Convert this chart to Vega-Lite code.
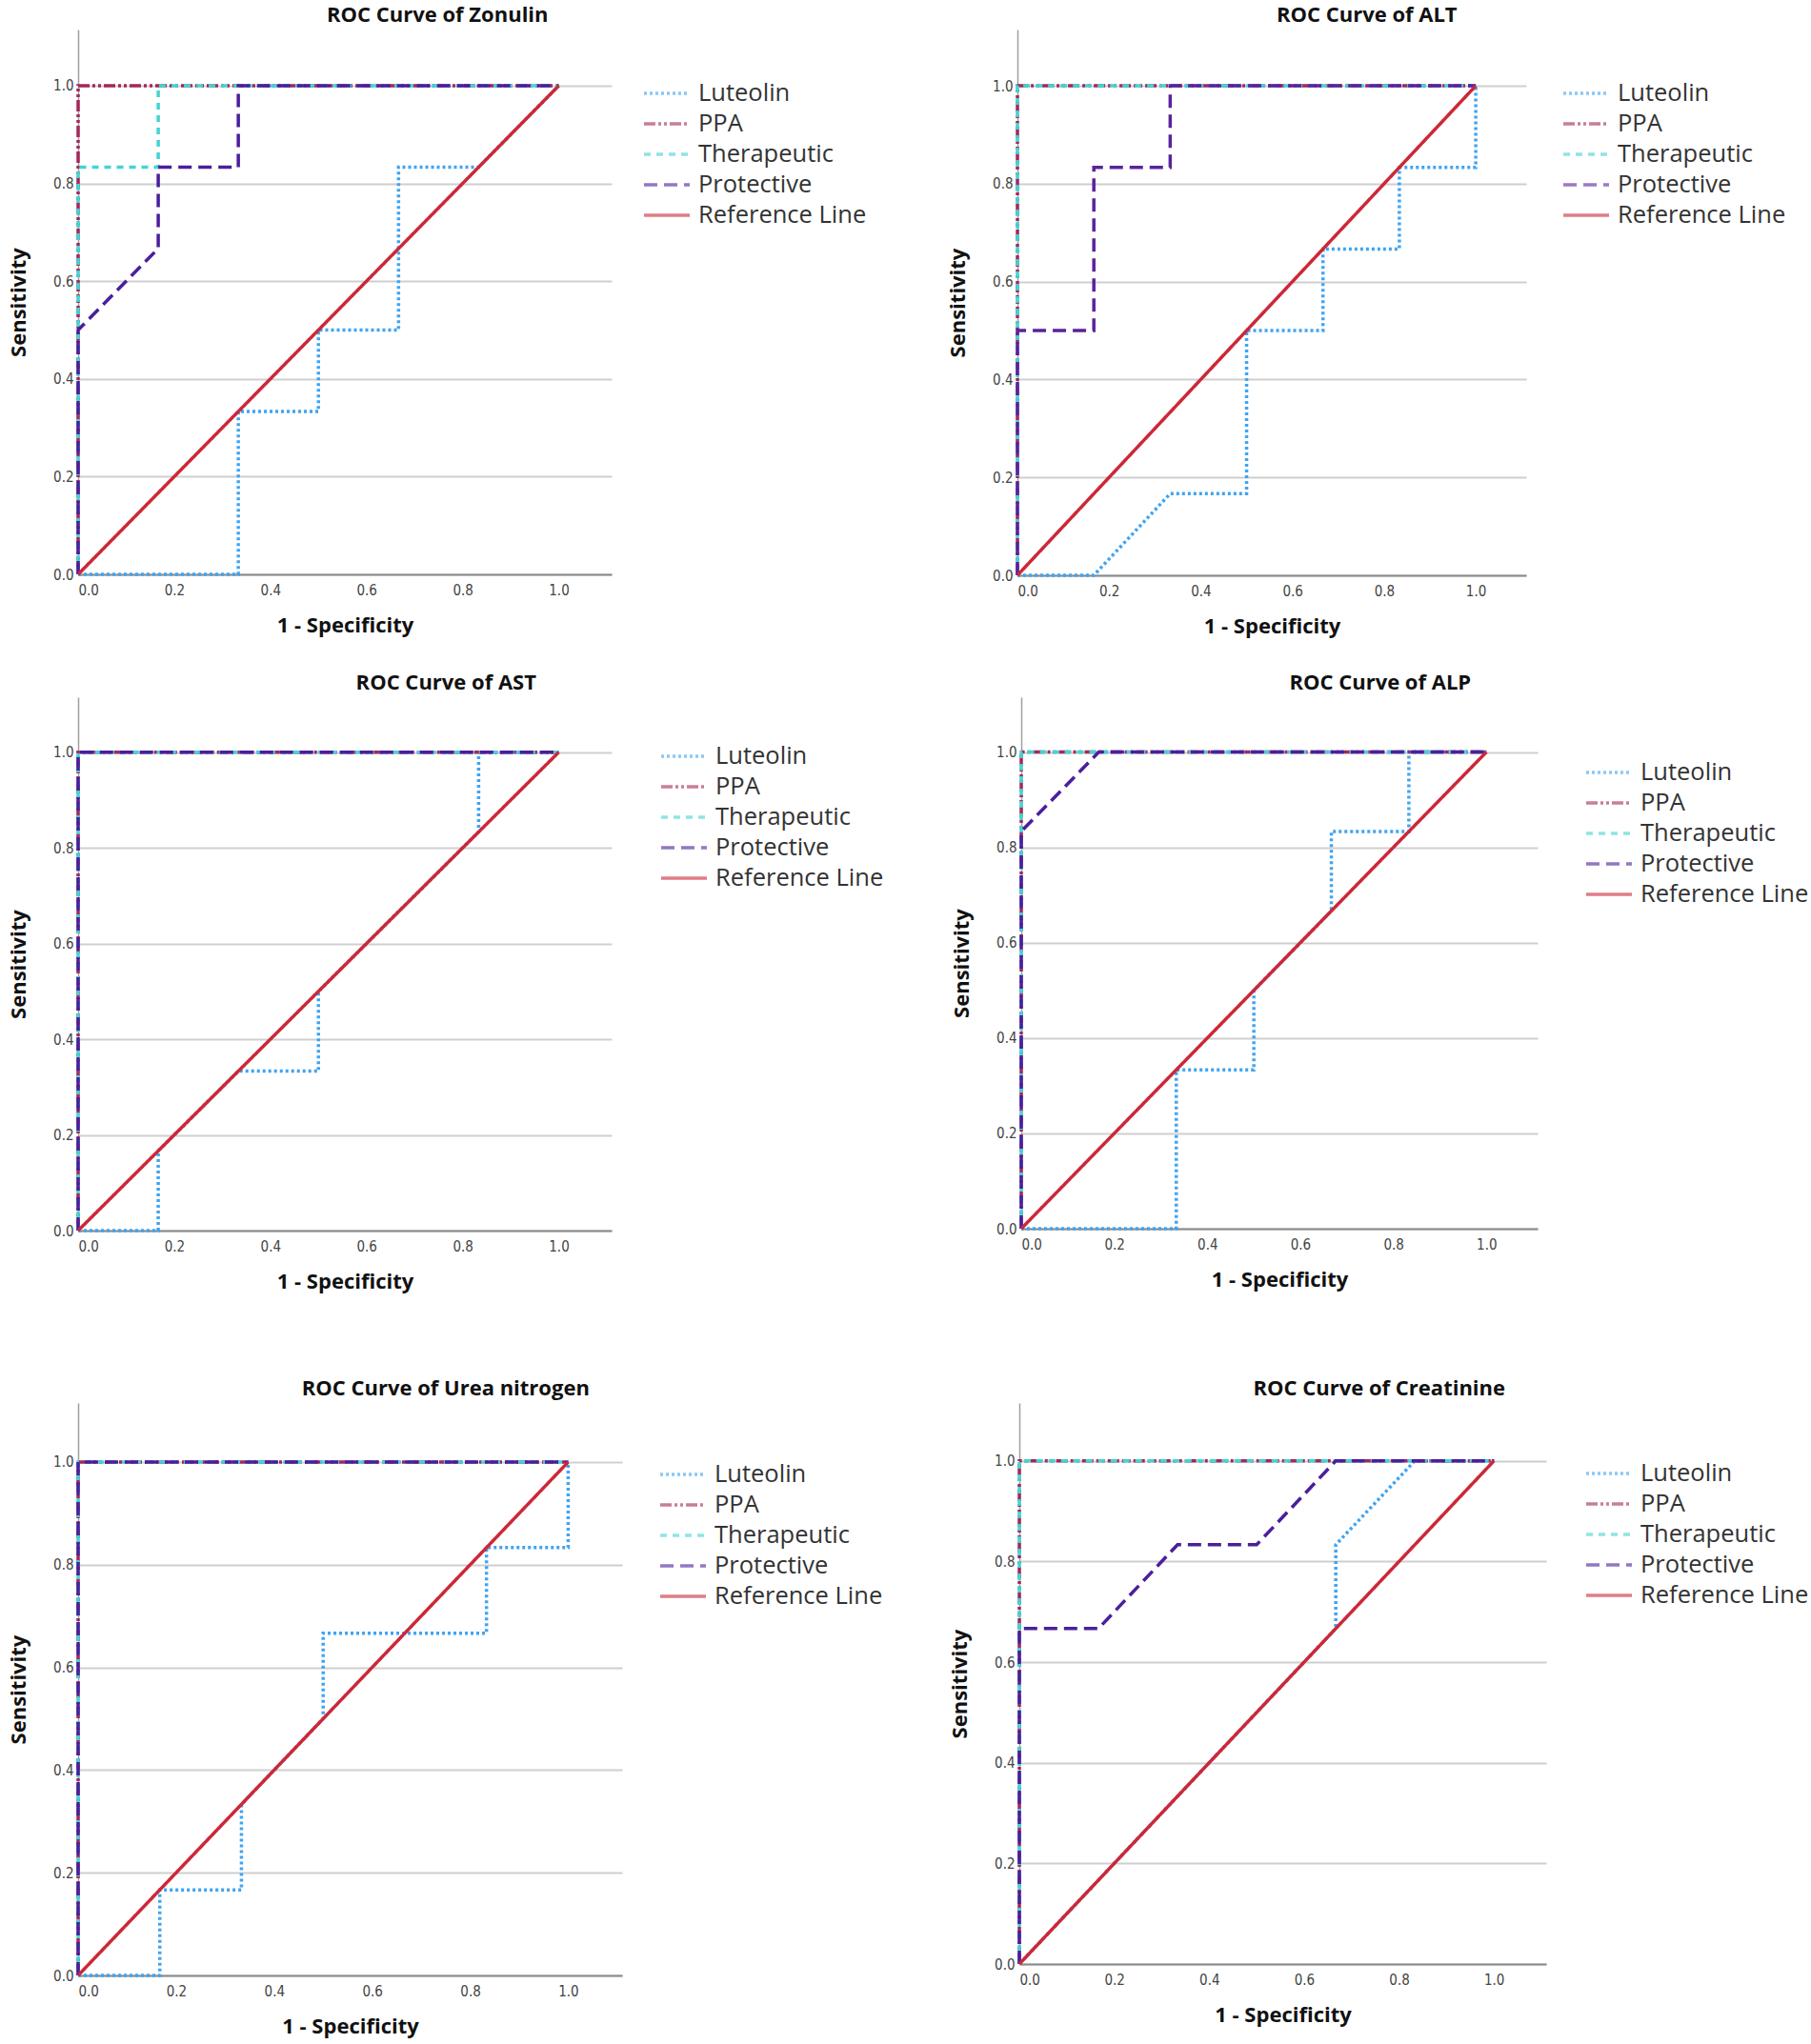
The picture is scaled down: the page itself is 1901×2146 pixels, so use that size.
{
  "$schema": "https://vega.github.io/schema/vega-lite/v6.json",
  "background": "white",
  "padding": {"left": 8, "top": 5, "right": 0, "bottom": 4},
  "config": {
    "view": {"stroke": null},
    "font": "Open Sans",
    "title": {"font": "Open Sans", "fontSize": 22, "fontWeight": "bold", "color": "#111", "frame": "bounds", "anchor": "middle", "offset": 3},
    "axis": {"ticks": false, "labelFont": "DejaVu Sans Condensed", "labelFontSize": 15, "labelColor": "#444", "titleFont": "Open Sans", "titleFontSize": 22, "titleFontWeight": "bold", "titleColor": "#111", "domainColor": "#8a8a8a", "domainWidth": 2, "gridColor": "#cfcfcf", "gridWidth": 2, "labelPadding": 5},
    "axisX": {"grid": false, "titlePadding": 19, "labelPadding": 9},
    "axisY": {"grid": true, "titlePadding": 24, "domainColor": "#a0a0a0", "domainWidth": 1.5},
    "legend": {"title": null, "orient": "none", "symbolType": "M-1.5,0H1.5", "symbolSize": 1024, "symbolStrokeWidth": 3.5, "symbolOpacity": 0.6, "symbolFillColor": "transparent", "labelFont": "Open Sans", "labelFontSize": 25.5, "labelLimit": 400, "labelColor": "#333", "rowPadding": 0, "labelOffset": 15},
    "line": {"strokeWidth": 3.5, "strokeCap": "butt"}
  },
  "datasets": {
    "zon": [
      {"s":"Luteolin","k":0,"x":0,"y":0},{"s":"Luteolin","k":1,"x":0.3333,"y":0},{"s":"Luteolin","k":2,"x":0.3333,"y":0.3333},{"s":"Luteolin","k":3,"x":0.5,"y":0.3333},{"s":"Luteolin","k":4,"x":0.5,"y":0.5},{"s":"Luteolin","k":5,"x":0.6667,"y":0.5},{"s":"Luteolin","k":6,"x":0.6667,"y":0.8333},{"s":"Luteolin","k":7,"x":0.8333,"y":0.8333},{"s":"Luteolin","k":8,"x":1,"y":1},
      {"s":"PPA","k":0,"x":0,"y":0},{"s":"PPA","k":1,"x":0,"y":1},{"s":"PPA","k":2,"x":1,"y":1},
      {"s":"Therapeutic","k":0,"x":0,"y":0},{"s":"Therapeutic","k":1,"x":0,"y":0.8333},{"s":"Therapeutic","k":2,"x":0.1667,"y":0.8333},{"s":"Therapeutic","k":3,"x":0.1667,"y":1},{"s":"Therapeutic","k":4,"x":1,"y":1},
      {"s":"Protective","k":0,"x":0,"y":0},{"s":"Protective","k":1,"x":0,"y":0.5},{"s":"Protective","k":2,"x":0.1667,"y":0.6667},{"s":"Protective","k":3,"x":0.1667,"y":0.8333},{"s":"Protective","k":4,"x":0.3333,"y":0.8333},{"s":"Protective","k":5,"x":0.3333,"y":1},{"s":"Protective","k":6,"x":1,"y":1},
      {"s":"Reference Line","k":0,"x":0,"y":0},{"s":"Reference Line","k":1,"x":1,"y":1}
    ],
    "alt": [
      {"s":"Luteolin","k":0,"x":0,"y":0},{"s":"Luteolin","k":1,"x":0.1667,"y":0},{"s":"Luteolin","k":2,"x":0.3333,"y":0.1667},{"s":"Luteolin","k":3,"x":0.5,"y":0.1667},{"s":"Luteolin","k":4,"x":0.5,"y":0.5},{"s":"Luteolin","k":5,"x":0.6667,"y":0.5},{"s":"Luteolin","k":6,"x":0.6667,"y":0.6667},{"s":"Luteolin","k":7,"x":0.8333,"y":0.6667},{"s":"Luteolin","k":8,"x":0.8333,"y":0.8333},{"s":"Luteolin","k":9,"x":1,"y":0.8333},{"s":"Luteolin","k":10,"x":1,"y":1},
      {"s":"PPA","k":0,"x":0,"y":0},{"s":"PPA","k":1,"x":0,"y":1},{"s":"PPA","k":2,"x":1,"y":1},
      {"s":"Therapeutic","k":0,"x":0,"y":0},{"s":"Therapeutic","k":1,"x":0,"y":1},{"s":"Therapeutic","k":2,"x":1,"y":1},
      {"s":"Protective","k":0,"x":0,"y":0},{"s":"Protective","k":1,"x":0,"y":0.5},{"s":"Protective","k":2,"x":0.1667,"y":0.5},{"s":"Protective","k":3,"x":0.1667,"y":0.8333},{"s":"Protective","k":4,"x":0.3333,"y":0.8333},{"s":"Protective","k":5,"x":0.3333,"y":1},{"s":"Protective","k":6,"x":1,"y":1},
      {"s":"Reference Line","k":0,"x":0,"y":0},{"s":"Reference Line","k":1,"x":1,"y":1}
    ],
    "ast": [
      {"s":"Luteolin","k":0,"x":0,"y":0},{"s":"Luteolin","k":1,"x":0.1667,"y":0},{"s":"Luteolin","k":2,"x":0.1667,"y":0.1667},{"s":"Luteolin","k":3,"x":0.3333,"y":0.3333},{"s":"Luteolin","k":4,"x":0.5,"y":0.3333},{"s":"Luteolin","k":5,"x":0.5,"y":0.5},{"s":"Luteolin","k":6,"x":0.8333,"y":0.8333},{"s":"Luteolin","k":7,"x":0.8333,"y":1},{"s":"Luteolin","k":8,"x":1,"y":1},
      {"s":"PPA","k":0,"x":0,"y":0},{"s":"PPA","k":1,"x":0,"y":1},{"s":"PPA","k":2,"x":1,"y":1},
      {"s":"Therapeutic","k":0,"x":0,"y":0},{"s":"Therapeutic","k":1,"x":0,"y":1},{"s":"Therapeutic","k":2,"x":1,"y":1},
      {"s":"Protective","k":0,"x":0,"y":0},{"s":"Protective","k":1,"x":0,"y":1},{"s":"Protective","k":2,"x":1,"y":1},
      {"s":"Reference Line","k":0,"x":0,"y":0},{"s":"Reference Line","k":1,"x":1,"y":1}
    ],
    "alp": [
      {"s":"Luteolin","k":0,"x":0,"y":0},{"s":"Luteolin","k":1,"x":0.3333,"y":0},{"s":"Luteolin","k":2,"x":0.3333,"y":0.3333},{"s":"Luteolin","k":3,"x":0.5,"y":0.3333},{"s":"Luteolin","k":4,"x":0.5,"y":0.5},{"s":"Luteolin","k":5,"x":0.6667,"y":0.6667},{"s":"Luteolin","k":6,"x":0.6667,"y":0.8333},{"s":"Luteolin","k":7,"x":0.8333,"y":0.8333},{"s":"Luteolin","k":8,"x":0.8333,"y":1},{"s":"Luteolin","k":9,"x":1,"y":1},
      {"s":"PPA","k":0,"x":0,"y":0},{"s":"PPA","k":1,"x":0,"y":1},{"s":"PPA","k":2,"x":1,"y":1},
      {"s":"Therapeutic","k":0,"x":0,"y":0},{"s":"Therapeutic","k":1,"x":0,"y":1},{"s":"Therapeutic","k":2,"x":1,"y":1},
      {"s":"Protective","k":0,"x":0,"y":0},{"s":"Protective","k":1,"x":0,"y":0.8333},{"s":"Protective","k":2,"x":0.1667,"y":1},{"s":"Protective","k":3,"x":1,"y":1},
      {"s":"Reference Line","k":0,"x":0,"y":0},{"s":"Reference Line","k":1,"x":1,"y":1}
    ],
    "urea": [
      {"s":"Luteolin","k":0,"x":0,"y":0},{"s":"Luteolin","k":1,"x":0.1667,"y":0},{"s":"Luteolin","k":2,"x":0.1667,"y":0.1667},{"s":"Luteolin","k":3,"x":0.3333,"y":0.1667},{"s":"Luteolin","k":4,"x":0.3333,"y":0.3333},{"s":"Luteolin","k":5,"x":0.5,"y":0.5},{"s":"Luteolin","k":6,"x":0.5,"y":0.6667},{"s":"Luteolin","k":7,"x":0.8333,"y":0.6667},{"s":"Luteolin","k":8,"x":0.8333,"y":0.8333},{"s":"Luteolin","k":9,"x":1,"y":0.8333},{"s":"Luteolin","k":10,"x":1,"y":1},
      {"s":"PPA","k":0,"x":0,"y":0},{"s":"PPA","k":1,"x":0,"y":1},{"s":"PPA","k":2,"x":1,"y":1},
      {"s":"Therapeutic","k":0,"x":0,"y":0},{"s":"Therapeutic","k":1,"x":0,"y":1},{"s":"Therapeutic","k":2,"x":1,"y":1},
      {"s":"Protective","k":0,"x":0,"y":0},{"s":"Protective","k":1,"x":0,"y":1},{"s":"Protective","k":2,"x":1,"y":1},
      {"s":"Reference Line","k":0,"x":0,"y":0},{"s":"Reference Line","k":1,"x":1,"y":1}
    ],
    "crea": [
      {"s":"Luteolin","k":0,"x":0,"y":0},{"s":"Luteolin","k":1,"x":0.6667,"y":0.6667},{"s":"Luteolin","k":2,"x":0.6667,"y":0.8333},{"s":"Luteolin","k":3,"x":0.8333,"y":1},{"s":"Luteolin","k":4,"x":1,"y":1},
      {"s":"PPA","k":0,"x":0,"y":0},{"s":"PPA","k":1,"x":0,"y":1},{"s":"PPA","k":2,"x":1,"y":1},
      {"s":"Therapeutic","k":0,"x":0,"y":0},{"s":"Therapeutic","k":1,"x":0,"y":1},{"s":"Therapeutic","k":2,"x":1,"y":1},
      {"s":"Protective","k":0,"x":0,"y":0},{"s":"Protective","k":1,"x":0,"y":0.6667},{"s":"Protective","k":2,"x":0.1667,"y":0.6667},{"s":"Protective","k":3,"x":0.3333,"y":0.8333},{"s":"Protective","k":4,"x":0.5,"y":0.8333},{"s":"Protective","k":5,"x":0.6667,"y":1},{"s":"Protective","k":6,"x":1,"y":1},
      {"s":"Reference Line","k":0,"x":0,"y":0},{"s":"Reference Line","k":1,"x":1,"y":1}
    ]
  },
  "resolve": {"scale": {"color": "independent", "strokeDash": "independent", "x": "independent", "y": "independent"}, "legend": {"color": "independent", "strokeDash": "independent"}},
  "spacing": 91,
  "vconcat": [
    {
      "resolve": {"scale": {"color": "independent", "strokeDash": "independent", "x": "independent", "y": "independent"}, "legend": {"color": "independent", "strokeDash": "independent"}},
      "spacing": 38,
      "vconcat": [
        {
          "resolve": {"scale": {"color": "independent", "strokeDash": "independent", "x": "independent", "y": "independent"}, "legend": {"color": "independent", "strokeDash": "independent"}},
          "spacing": 84,
          "hconcat": [
            {
              "title": "ROC Curve of Zonulin",
              "width": 560, "height": 572,
              "data": {"name": "zon"},
              "mark": {"type": "line"},
              "encoding": {
                "x": {"field": "x", "type": "quantitative", "title": "1 - Specificity", "scale": {"domain": [0, 1.11], "nice": false}, "axis": {"values": [0, 0.2, 0.4, 0.6, 0.8, 1.0], "format": ".1f"}},
                "y": {"field": "y", "type": "quantitative", "title": "Sensitivity", "scale": {"domain": [0, 1.115], "nice": false}, "axis": {"values": [0, 0.2, 0.4, 0.6, 0.8, 1.0], "format": ".1f"}},
                "order": {"field": "k", "type": "quantitative"},
                "color": {"field": "s", "type": "nominal", "scale": {"domain": ["Luteolin", "PPA", "Therapeutic", "Protective", "Reference Line"], "range": ["#3FA4F2", "#A5285A", "#45D3D3", "#4A1F9C", "#CC2838"]}, "legend": {"legendX": 600, "legendY": 49}},
                "strokeDash": {"field": "s", "type": "nominal", "scale": {"domain": ["Luteolin", "PPA", "Therapeutic", "Protective", "Reference Line"], "range": [[3, 3], [12, 3, 3, 3, 3, 3], [7, 6], [14, 7], [1, 0]]}, "legend": {"legendX": 600, "legendY": 49}}
              }
            },
            {
              "title": "ROC Curve of ALT",
              "width": 534, "height": 573,
              "data": {"name": "alt"},
              "mark": {"type": "line"},
              "encoding": {
                "x": {"field": "x", "type": "quantitative", "title": "1 - Specificity", "scale": {"domain": [0, 1.11], "nice": false}, "axis": {"values": [0, 0.2, 0.4, 0.6, 0.8, 1.0], "format": ".1f"}},
                "y": {"field": "y", "type": "quantitative", "title": "Sensitivity", "scale": {"domain": [0, 1.115], "nice": false}, "axis": {"values": [0, 0.2, 0.4, 0.6, 0.8, 1.0], "format": ".1f"}},
                "order": {"field": "k", "type": "quantitative"},
                "color": {"field": "s", "type": "nominal", "scale": {"domain": ["Luteolin", "PPA", "Therapeutic", "Protective", "Reference Line"], "range": ["#3FA4F2", "#A5285A", "#45D3D3", "#5A239C", "#CC2838"]}, "legend": {"legendX": 579, "legendY": 49}},
                "strokeDash": {"field": "s", "type": "nominal", "scale": {"domain": ["Luteolin", "PPA", "Therapeutic", "Protective", "Reference Line"], "range": [[3, 3], [12, 3, 3, 3, 3, 3], [7, 6], [14, 7], [1, 0]]}, "legend": {"legendX": 579, "legendY": 49}}
              }
            }
          ]
        },
        {
          "resolve": {"scale": {"color": "independent", "strokeDash": "independent", "x": "independent", "y": "independent"}, "legend": {"color": "independent", "strokeDash": "independent"}},
          "spacing": 70,
          "hconcat": [
            {
              "title": "ROC Curve of AST",
              "width": 560, "height": 560,
              "data": {"name": "ast"},
              "mark": {"type": "line"},
              "encoding": {
                "x": {"field": "x", "type": "quantitative", "title": "1 - Specificity", "scale": {"domain": [0, 1.11], "nice": false}, "axis": {"values": [0, 0.2, 0.4, 0.6, 0.8, 1.0], "format": ".1f"}},
                "y": {"field": "y", "type": "quantitative", "title": "Sensitivity", "scale": {"domain": [0, 1.115], "nice": false}, "axis": {"values": [0, 0.2, 0.4, 0.6, 0.8, 1.0], "format": ".1f"}},
                "order": {"field": "k", "type": "quantitative"},
                "color": {"field": "s", "type": "nominal", "scale": {"domain": ["Luteolin", "PPA", "Therapeutic", "Protective", "Reference Line"], "range": ["#3FA4F2", "#A5285A", "#45D3D3", "#4A1F9C", "#CC2838"]}, "legend": {"legendX": 618, "legendY": 44}},
                "strokeDash": {"field": "s", "type": "nominal", "scale": {"domain": ["Luteolin", "PPA", "Therapeutic", "Protective", "Reference Line"], "range": [[3, 3], [12, 3, 3, 3, 3, 3], [7, 6], [14, 7], [1, 0]]}, "legend": {"legendX": 618, "legendY": 44}}
              }
            },
            {
              "title": "ROC Curve of ALP",
              "width": 542, "height": 558,
              "data": {"name": "alp"},
              "mark": {"type": "line"},
              "encoding": {
                "x": {"field": "x", "type": "quantitative", "title": "1 - Specificity", "scale": {"domain": [0, 1.11], "nice": false}, "axis": {"values": [0, 0.2, 0.4, 0.6, 0.8, 1.0], "format": ".1f"}},
                "y": {"field": "y", "type": "quantitative", "title": "Sensitivity", "scale": {"domain": [0, 1.115], "nice": false}, "axis": {"values": [0, 0.2, 0.4, 0.6, 0.8, 1.0], "format": ".1f"}},
                "order": {"field": "k", "type": "quantitative"},
                "color": {"field": "s", "type": "nominal", "scale": {"domain": ["Luteolin", "PPA", "Therapeutic", "Protective", "Reference Line"], "range": ["#3FA4F2", "#A5285A", "#45D3D3", "#4A1F9C", "#CC2838"]}, "legend": {"legendX": 599, "legendY": 61}},
                "strokeDash": {"field": "s", "type": "nominal", "scale": {"domain": ["Luteolin", "PPA", "Therapeutic", "Protective", "Reference Line"], "range": [[3, 3], [12, 3, 3, 3, 3, 3], [7, 6], [14, 7], [1, 0]]}, "legend": {"legendX": 599, "legendY": 61}}
              }
            }
          ]
        }
      ]
    },
    {
      "resolve": {"scale": {"color": "independent", "strokeDash": "independent", "x": "independent", "y": "independent"}, "legend": {"color": "independent", "strokeDash": "independent"}},
      "spacing": 69,
      "hconcat": [
        {
          "title": "ROC Curve of Urea nitrogen",
          "width": 571, "height": 601,
          "data": {"name": "urea"},
          "mark": {"type": "line"},
          "encoding": {
            "x": {"field": "x", "type": "quantitative", "title": "1 - Specificity", "scale": {"domain": [0, 1.11], "nice": false}, "axis": {"values": [0, 0.2, 0.4, 0.6, 0.8, 1.0], "format": ".1f"}},
            "y": {"field": "y", "type": "quantitative", "title": "Sensitivity", "scale": {"domain": [0, 1.115], "nice": false}, "axis": {"values": [0, 0.2, 0.4, 0.6, 0.8, 1.0], "format": ".1f"}},
            "order": {"field": "k", "type": "quantitative"},
            "color": {"field": "s", "type": "nominal", "scale": {"domain": ["Luteolin", "PPA", "Therapeutic", "Protective", "Reference Line"], "range": ["#3FA4F2", "#A5285A", "#45D3D3", "#4A1F9C", "#CC2838"]}, "legend": {"legendX": 617, "legendY": 57}},
            "strokeDash": {"field": "s", "type": "nominal", "scale": {"domain": ["Luteolin", "PPA", "Therapeutic", "Protective", "Reference Line"], "range": [[3, 3], [12, 3, 3, 3, 3, 3], [7, 6], [14, 7], [1, 0]]}, "legend": {"legendX": 617, "legendY": 57}}
          }
        },
        {
          "title": "ROC Curve of Creatinine",
          "width": 553, "height": 589,
          "data": {"name": "crea"},
          "mark": {"type": "line"},
          "encoding": {
            "x": {"field": "x", "type": "quantitative", "title": "1 - Specificity", "scale": {"domain": [0, 1.11], "nice": false}, "axis": {"values": [0, 0.2, 0.4, 0.6, 0.8, 1.0], "format": ".1f"}},
            "y": {"field": "y", "type": "quantitative", "title": "Sensitivity", "scale": {"domain": [0, 1.115], "nice": false}, "axis": {"values": [0, 0.2, 0.4, 0.6, 0.8, 1.0], "format": ".1f"}},
            "order": {"field": "k", "type": "quantitative"},
            "color": {"field": "s", "type": "nominal", "scale": {"domain": ["Luteolin", "PPA", "Therapeutic", "Protective", "Reference Line"], "range": ["#3FA4F2", "#A5285A", "#45D3D3", "#4A1F9C", "#CC2838"]}, "legend": {"legendX": 601, "legendY": 56}},
            "strokeDash": {"field": "s", "type": "nominal", "scale": {"domain": ["Luteolin", "PPA", "Therapeutic", "Protective", "Reference Line"], "range": [[3, 3], [12, 3, 3, 3, 3, 3], [7, 6], [14, 7], [1, 0]]}, "legend": {"legendX": 601, "legendY": 56}}
          }
        }
      ]
    }
  ]
}
